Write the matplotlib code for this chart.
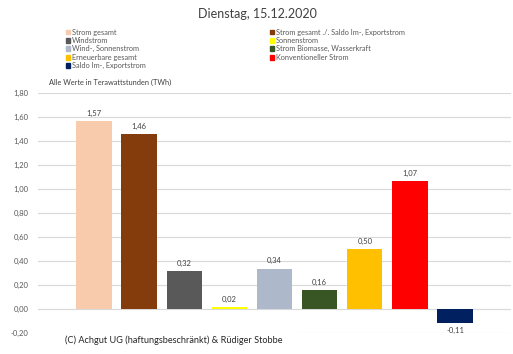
import matplotlib.pyplot as plt
from matplotlib.patches import Rectangle

# Daten
kategorien = ["Strom gesamt", "Strom gesamt ./. Saldo Im-, Exportstrom", "Windstrom",
              "Sonnenstrom", "Wind-, Sonnenstrom", "Strom Biomasse, Wasserkraft",
              "Erneuerbare gesamt", "Konventioneller Strom", "Saldo Im-, Exportstrom"]
werte = [1.57, 1.46, 0.32, 0.02, 0.34, 0.16, 0.50, 1.07, -0.11]
farben = ["#F8CBAD", "#843C0C", "#595959", "#FFFF00", "#ADB9CA",
          "#375623", "#FFC000", "#FF0000", "#002060"]
yticks = [-0.2, 0.0, 0.2, 0.4, 0.6, 0.8, 1.0, 1.2, 1.4, 1.6, 1.8]

plt.rcParams['font.family'] = ['Lato', 'DejaVu Sans']

W, H = 513, 354
fig = plt.figure(figsize=(W / 100, H / 100), dpi=100)

# Achse in Pixelkoordinaten
x0, x1, ytop, ybot = 38, 511, 93.3, 333.3
ax = fig.add_axes([x0 / W, 1 - ybot / H, (x1 - x0) / W, (ybot - ytop) / H])

pos = list(range(len(werte)))
ax.bar(pos, werte, width=0.78, color=farben, zorder=3)

for p, v in zip(pos, werte):
    txt = f"{v:.2f}".replace(".", ",")
    if v >= 0:
        ax.annotate(txt, (p, v), xytext=(0, 3), textcoords="offset points",
                    ha="center", va="bottom", fontsize=5.5, color="#404040")
    else:
        ax.annotate(txt, (p, v), xytext=(0, -3), textcoords="offset points",
                    ha="center", va="top", fontsize=5.5, color="#404040")

ax.set_xlim(-1.24, 9.24)
ax.set_ylim(-0.2, 1.8)
ax.set_yticks(yticks)
ax.set_yticklabels([f"{t:.2f}".replace(".", ",") for t in yticks],
                   fontsize=5.5, color="#595959")
ax.set_xticks([])
ax.tick_params(axis="y", length=0, pad=7)
ax.grid(axis="y", color="#D9D9D9", linewidth=0.8, zorder=0)
for s in ax.spines.values():
    s.set_visible(False)

# Titel
fig.text(257 / W, 1 - 13.5 / H, "Dienstag, 15.12.2020", ha="center", va="center",
         fontsize=9, color="#404040")

# Legende (zeilenweise wie in Excel)
for i, (k, f) in enumerate(zip(kategorien, farben)):
    col, row = i % 2, i // 2
    lx = 66 if col == 0 else 270
    ly = 32 + row * 8.4
    fig.patches.append(Rectangle((lx / W, 1 - (ly + 2.3) / H), 4.3 / W, 4.6 / H,
                                 transform=fig.transFigure, color=f))
    fig.text((lx + 5.5) / W, 1 - ly / H, k, ha="left", va="center",
             fontsize=5.3, color="#595959")

fig.text(49 / W, 1 - 82.5 / H, "Alle Werte in Terawattstunden (TWh)", ha="left",
         va="center", fontsize=5.3, color="#404040")

# Copyright-Feld
fig.patches.append(Rectangle((29 / W, 0), (299 - 29) / W, 1 - 320 / H,
                             transform=fig.transFigure, color="white", zorder=5))
fig.text(65 / W, 1 - 340 / H, "(C) Achgut UG (haftungsbeschränkt) & Rüdiger Stobbe",
         ha="left", va="center", fontsize=6.6, color="#262626", zorder=6)

fig.savefig("out.png", dpi=100)
